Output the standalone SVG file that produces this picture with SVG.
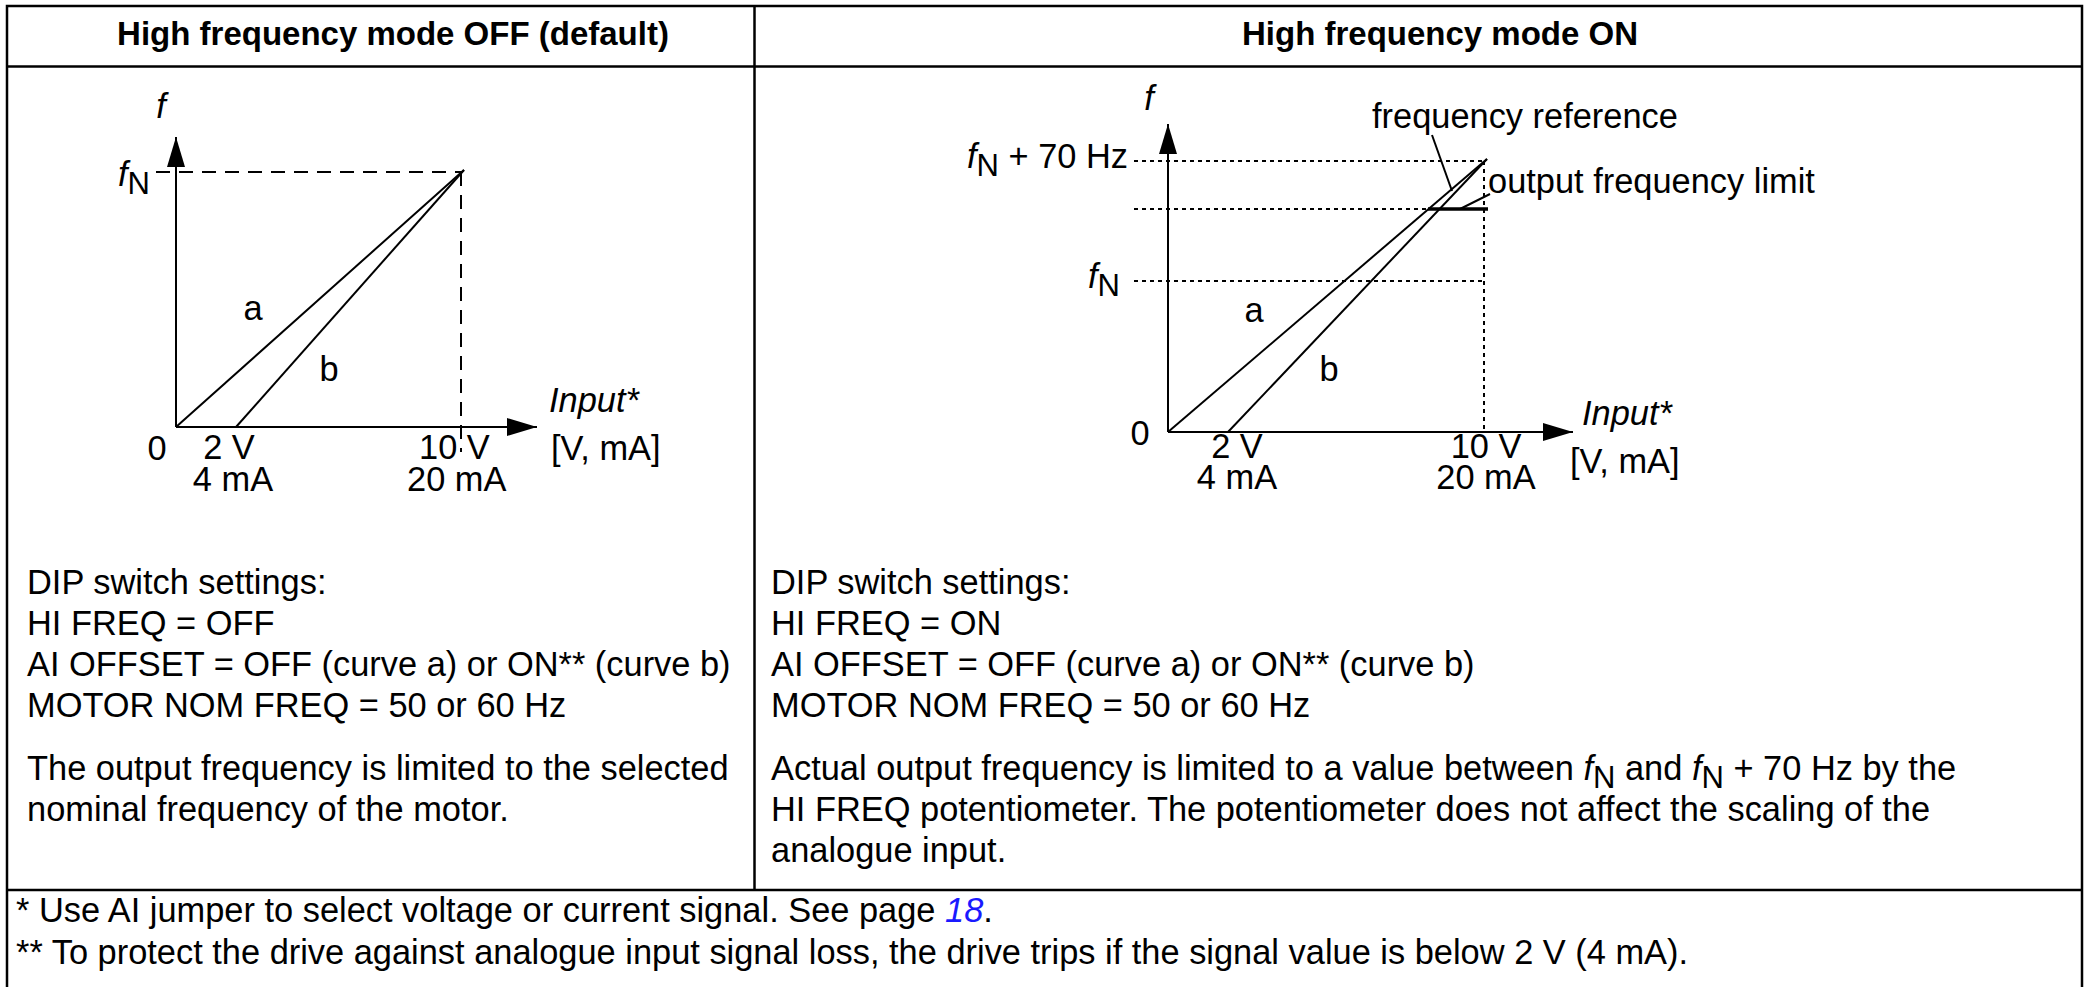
<svg xmlns="http://www.w3.org/2000/svg" width="2090" height="987" viewBox="0 0 2090 987">
<style>
text{font-family:"Liberation Sans",Arial,sans-serif;font-size:34.4px;fill:#000}
.hd{font-weight:bold;text-anchor:middle;font-size:33px}
.it{font-style:italic}
.c{text-anchor:middle}
.e{text-anchor:end}
.tb{stroke:#000;stroke-width:2.5;fill:none}
.ax{stroke:#000;stroke-width:2;fill:none}
.dash{stroke:#000;stroke-width:2;stroke-dasharray:14 9;fill:none}
.dot{stroke:#000;stroke-width:2;stroke-dasharray:4 4;fill:none}
.sub{font-size:31px}
.lnk{fill:#1a1aff;font-style:italic}
</style>
<defs>
<marker id="arr" markerUnits="userSpaceOnUse" markerWidth="30" markerHeight="18" viewBox="0 0 30 18" refX="30" refY="9" orient="auto">
<path d="M0,0 L30,9 L0,18 z" fill="#000"/>
</marker>
</defs>
<rect width="2090" height="987" fill="#fff"/>
<g id="table">
<path class="tb" d="M7,1000 V6 H2082 V1000"/>
<line class="tb" x1="7" y1="66.5" x2="2082" y2="66.5"/>
<line class="tb" x1="754.5" y1="6" x2="754.5" y2="890"/>
<line class="tb" x1="7" y1="890" x2="2082" y2="890"/>
</g>
<g id="headers">
<text class="hd" x="393" y="45">High frequency mode OFF (default)</text>
<text class="hd" x="1440" y="45">High frequency mode ON</text>
</g>
<g id="chart-off">
<g id="connectors-off">
<line class="dash" x1="156" y1="172" x2="463" y2="172"/>
<line class="dash" x1="461" y1="172" x2="461" y2="452"/>
<line class="ax" x1="176" y1="427" x2="176" y2="137" marker-end="url(#arr)"/>
<line class="ax" x1="176" y1="427" x2="537" y2="427" marker-end="url(#arr)"/>
<line class="ax" x1="176" y1="427" x2="464" y2="170"/>
<line class="ax" x1="236" y1="427" x2="464" y2="170"/>
</g>
<text class="it c" x="161" y="118">f</text>
<text class="e" x="150" y="186"><tspan class="it">f</tspan><tspan class="sub" dy="8">N</tspan></text>
<text class="c" x="253" y="320">a</text>
<text class="c" x="329" y="381">b</text>
<text class="it" x="549" y="412">Input*</text>
<text x="551" y="460">[V, mA]</text>
<text class="c" x="157" y="460">0</text>
<text class="c" x="229" y="459">2 V</text>
<text class="c" x="233" y="491">4 mA</text>
<text x="419" y="459">10 V</text>
<text x="407" y="491">20 mA</text>
</g>
<g id="chart-on">
<g id="connectors-on">
<line class="dot" x1="1134" y1="161" x2="1486" y2="161"/>
<line class="dot" x1="1134" y1="209" x2="1430" y2="209"/>
<line class="dot" x1="1134" y1="281" x2="1484" y2="281"/>
<line class="dot" x1="1484" y1="161" x2="1484" y2="432"/>
<line class="ax" x1="1168" y1="432" x2="1168" y2="124" marker-end="url(#arr)"/>
<line class="ax" x1="1168" y1="432" x2="1573" y2="432" marker-end="url(#arr)"/>
<line class="ax" x1="1168" y1="432" x2="1487" y2="159"/>
<line class="ax" x1="1228" y1="432" x2="1487" y2="159"/>
<line class="ax" x1="1428" y1="209" x2="1488" y2="209" style="stroke-width:3.5"/>
<line class="ax" x1="1432" y1="135" x2="1452" y2="191"/>
<line class="ax" x1="1490" y1="194" x2="1460" y2="209"/>
</g>
<text class="it c" x="1149" y="110">f</text>
<text class="e" x="1128" y="168"><tspan class="it">f</tspan><tspan class="sub" dy="8">N</tspan><tspan dy="-8"> + 70 Hz</tspan></text>
<text class="e" x="1120" y="288"><tspan class="it">f</tspan><tspan class="sub" dy="8">N</tspan></text>
<text x="1372" y="128">frequency reference</text>
<text x="1488" y="193">output frequency limit</text>
<text class="c" x="1254" y="322">a</text>
<text class="c" x="1329" y="381">b</text>
<text class="it" x="1582" y="425">Input*</text>
<text x="1570" y="473">[V, mA]</text>
<text class="c" x="1140" y="445">0</text>
<text class="c" x="1237" y="458">2 V</text>
<text class="c" x="1237" y="489">4 mA</text>
<text class="c" x="1486" y="458">10 V</text>
<text class="c" x="1486" y="489">20 mA</text>
</g>
<g id="text-off">
<text x="27" y="594">DIP switch settings:</text>
<text x="27" y="635">HI FREQ = OFF</text>
<text x="27" y="676">AI OFFSET = OFF (curve a) or ON** (curve b)</text>
<text x="27" y="717">MOTOR NOM FREQ = 50 or 60 Hz</text>
<text x="27" y="780">The output frequency is limited to the selected</text>
<text x="27" y="821">nominal frequency of the motor.</text>
</g>
<g id="text-on">
<text x="771" y="594">DIP switch settings:</text>
<text x="771" y="635">HI FREQ = ON</text>
<text x="771" y="676">AI OFFSET = OFF (curve a) or ON** (curve b)</text>
<text x="771" y="717">MOTOR NOM FREQ = 50 or 60 Hz</text>
<text x="771" y="780">Actual output frequency is limited to a value between <tspan class="it">f</tspan><tspan class="sub" dy="8">N</tspan><tspan dy="-8"> and </tspan><tspan class="it">f</tspan><tspan class="sub" dy="8">N</tspan><tspan dy="-8"> + 70 Hz by the</tspan></text>
<text x="771" y="821">HI FREQ potentiometer. The potentiometer does not affect the scaling of the</text>
<text x="771" y="862">analogue input.</text>
</g>
<g id="footer">
<text x="16" y="922">* Use AI jumper to select voltage or current signal. See page <tspan class="lnk">18</tspan>.</text>
<text x="16" y="964">** To protect the drive against analogue input signal loss, the drive trips if the signal value is below 2 V (4 mA).</text>
</g>
</svg>
